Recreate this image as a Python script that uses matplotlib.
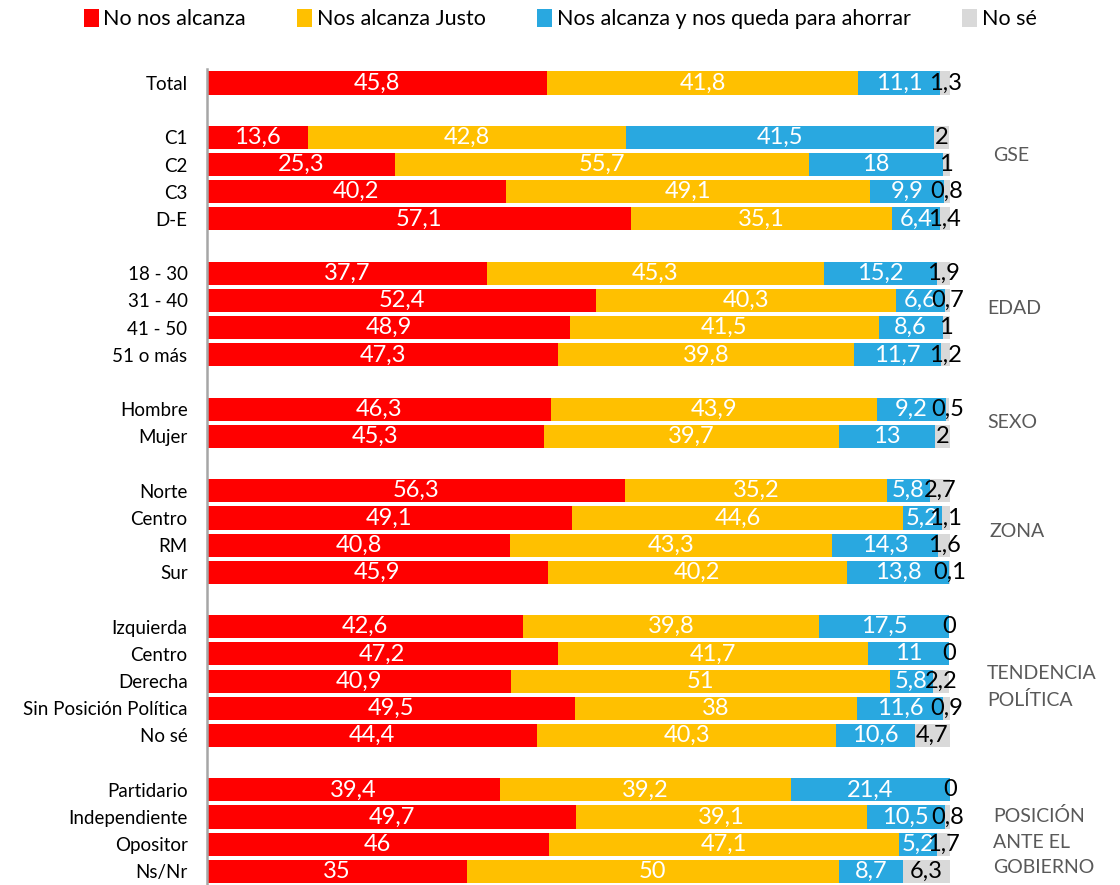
import numpy as np
import matplotlib.pyplot as plt

plt.rcParams['font.family'] = ['Lato', 'DejaVu Sans']

# filas (None = espacio entre grupos)
categorias = ["Total", None, "C1", "C2", "C3", "D-E", None,
              "18 - 30", "31 - 40", "41 - 50", "51 o más", None,
              "Hombre", "Mujer", None,
              "Norte", "Centro", "RM", "Sur", None,
              "Izquierda", "Centro", "Derecha", "Sin Posición Política", "No sé", None,
              "Partidario", "Independiente", "Opositor", "Ns/Nr"]

no_alcanza = [45.8, 13.6, 25.3, 40.2, 57.1, 37.7, 52.4, 48.9, 47.3, 46.3, 45.3,
              56.3, 49.1, 40.8, 45.9, 42.6, 47.2, 40.9, 49.5, 44.4, 39.4, 49.7, 46, 35]
justo = [41.8, 42.8, 55.7, 49.1, 35.1, 45.3, 40.3, 41.5, 39.8, 43.9, 39.7,
         35.2, 44.6, 43.3, 40.2, 39.8, 41.7, 51, 38, 40.3, 39.2, 39.1, 47.1, 50]
ahorrar = [11.1, 41.5, 18, 9.9, 6.4, 15.2, 6.6, 8.6, 11.7, 9.2, 13,
           5.8, 5.2, 14.3, 13.8, 17.5, 11, 5.8, 11.6, 10.6, 21.4, 10.5, 5.2, 8.7]
no_se = [1.3, 2, 1, 0.8, 1.4, 1.9, 0.7, 1, 1.2, 0.5, 2,
         2.7, 1.1, 1.6, 0.1, 0, 0, 2.2, 0.9, 4.7, 0, 0.8, 1.7, 6.3]

series = ["No nos alcanza", "Nos alcanza Justo", "Nos alcanza y nos queda para ahorrar", "No sé"]
colores = ["#FF0000", "#FFC000", "#29A8E0", "#D9D9D9"]
color_txt = ["white", "white", "white", "black"]

grupos = ["GSE", "EDAD", "SEXO", "ZONA", "TENDENCIA\nPOLÍTICA", "POSICIÓN\nANTE EL\nGOBIERNO"]
grupos_y = [2.65, 8.3, 12.5, 16.5, 22.2, 27.9]
grupos_x = [105.8, 105, 105, 105.3, 105, 105.8]

def fmt(v):
    if v == int(v):
        return str(int(v))
    return f"{v:.1f}".replace(".", ",")

pos = [i for i, c in enumerate(categorias) if c is not None]
nombres = [c for c in categorias if c is not None]

fig = plt.figure(figsize=(11.2, 8.85), dpi=100)
ax = fig.add_axes([0.1848, 0.0, 0.6634, 0.9216])

izq = np.zeros(len(pos))
for datos, nombre, col, ct in zip([no_alcanza, justo, ahorrar, no_se], series, colores, color_txt):
    datos = np.array(datos)
    barras = ax.barh(pos, datos, left=izq, height=0.85, color=col, label=nombre)
    ax.bar_label(barras, labels=[fmt(v) for v in datos], label_type='center',
                 color=ct, fontsize=17)
    izq += datos

ax.set_ylim(len(categorias) - 0.5, -0.5)
ax.set_xlim(0, 100)
ax.set_yticks(pos)
ax.set_yticklabels(nombres, fontsize=13.5)
ax.tick_params(axis='y', length=0, pad=14)
ax.set_xticks([])
for s in ["top", "right", "bottom"]:
    ax.spines[s].set_visible(False)
ax.spines["left"].set_color("#A6A6A6")
ax.spines["left"].set_linewidth(1.8)

for g, gy, gx in zip(grupos, grupos_y, grupos_x):
    ax.text(gx, gy, g, fontsize=14, color="#595959", va='center', ha='left',
            linespacing=1.6, clip_on=False)

fig.legend(loc='upper center', bbox_to_anchor=(0.5, 1.012), ncol=4, frameon=False,
           fontsize=15.5, handlelength=0.7, handleheight=0.9, handletextpad=0.2,
           columnspacing=2.4)

fig.savefig("out.png", dpi=100)
